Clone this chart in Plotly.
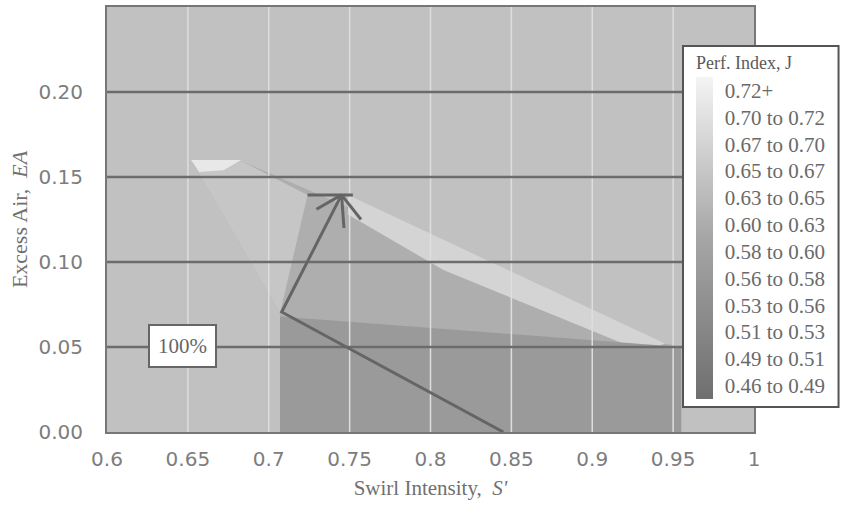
import plotly.graph_objects as go

# ---------------- data ----------------
x_ticks = [0.6, 0.65, 0.7, 0.75, 0.8, 0.85, 0.9, 0.95, 1.0]
x_labels = ["0.6", "0.65", "0.7", "0.75", "0.8", "0.85", "0.9", "0.95", "1"]
y_ticks = [0.0, 0.05, 0.10, 0.15, 0.20]
y_labels = ["0.00", "0.05", "0.10", "0.15", "0.20"]

# contour regions (vertices in data units)
feasible_x = [0.652, 0.684, 0.945, 0.955, 0.955, 0.707, 0.707]
feasible_y = [0.160, 0.159, 0.052, 0.050, 0.000, 0.000, 0.070]
upper_left_x = [0.652, 0.684, 0.724, 0.707]
upper_left_y = [0.160, 0.159, 0.1394, 0.070]
sliver_x = [0.652, 0.683, 0.672, 0.657]
sliver_y = [0.160, 0.160, 0.154, 0.153]
band_x = [0.749, 0.945, 0.932, 0.808, 0.749]
band_y = [0.1394, 0.052, 0.047, 0.0953, 0.128]
dark_x = [0.707, 0.707, 0.955, 0.955]
dark_y = [0.000, 0.068, 0.050, 0.000]

# path lines
start_pt = (0.708, 0.0706)
tip_pt = (0.745, 0.1395)
end_pt = (0.845, 0.0)
bar_x = [0.724, 0.752]
bar_y = [0.1394, 0.1394]
barb_x = [0.7295, 0.7465, 0.757]
barb_y = [0.131, 0.120, 0.125]

legend_labels = ["0.46 to 0.49", "0.49 to 0.51", "0.51 to 0.53", "0.53 to 0.56",
                 "0.56 to 0.58", "0.58 to 0.60", "0.60 to 0.63", "0.63 to 0.65",
                 "0.65 to 0.67", "0.67 to 0.70", "0.70 to 0.72", "0.72+"]

SERIF = "Liberation Serif"
fig = go.Figure()

def poly(xs, ys, color):
    fig.add_trace(go.Scatter(x=xs, y=ys, fill="toself", fillcolor=color,
                             mode="lines", line=dict(width=0), hoverinfo="skip",
                             showlegend=False))

poly(feasible_x, feasible_y, "#aeaeae")
poly(upper_left_x, upper_left_y, "#c6c6c6")
poly(sliver_x, sliver_y, "#e8e8e8")
poly(band_x, band_y, "#d4d4d4")
poly(dark_x, dark_y, "#9a9a9a")

# grid lines on top of the regions (from tick arrays)
gx, gy = [], []
for v in x_ticks[1:-1]:
    gx += [v, v, None]
    gy += [y_ticks[0], 0.25, None]
fig.add_trace(go.Scatter(x=gx, y=gy, mode="lines", line=dict(color="#dedede", width=1.5),
                         hoverinfo="skip", showlegend=False))
hx, hy = [], []
for v in y_ticks[1:]:
    hx += [x_ticks[0], x_ticks[-1], None]
    hy += [v, v, None]
fig.add_trace(go.Scatter(x=hx, y=hy, mode="lines", line=dict(color="#6c6c6c", width=2.5),
                         hoverinfo="skip", showlegend=False))

# path lines
lc = dict(color="#656565", width=3)
fig.add_trace(go.Scatter(x=[end_pt[0], start_pt[0], tip_pt[0]],
                         y=[end_pt[1], start_pt[1], tip_pt[1]],
                         mode="lines", line=lc, hoverinfo="skip", showlegend=False))
fig.add_trace(go.Scatter(x=bar_x, y=bar_y, mode="lines", line=lc,
                         hoverinfo="skip", showlegend=False))
bx, by = [], []
for xx, yy in zip(barb_x, barb_y):
    bx += [tip_pt[0], xx, None]
    by += [tip_pt[1], yy, None]
fig.add_trace(go.Scatter(x=bx, y=by, mode="lines", line=lc,
                         hoverinfo="skip", showlegend=False))

# colour legend (colorbar)
n = len(legend_labels)
fig.add_trace(go.Scatter(
    x=[None] * n, y=[None] * n, mode="markers", showlegend=False, hoverinfo="skip",
    marker=dict(color=list(range(n)), cmin=0, cmax=n,
                colorscale=[[0, "#6f6f6f"], [0.5, "#a6a6a6"], [1, "#f4f4f4"]],
                showscale=True,
                colorbar=dict(
                    x=0.892, xanchor="left", y=0.908, yanchor="top",
                    lenmode="pixels", len=359, thickness=17,
                    thicknessmode="pixels", xpad=12, ypad=6,
                    outlinewidth=0, bgcolor="white",
                    bordercolor="#555555", borderwidth=2,
                    tickmode="array", tickvals=[i + 0.5 for i in range(n)],
                    ticktext=legend_labels, ticks="outside", ticklen=8,
                    tickcolor="white",
                    tickfont=dict(family=SERIF, size=21, color="#6a6a6a"),
                    title=dict(text="Perf. Index, J", side="top",
                               font=dict(family=SERIF, size=18, color="#5a5a5a")),
                ))))

fig.add_annotation(x=0.6466, y=0.0506, xref="x", yref="y", text="100%",
                   showarrow=False, bgcolor="white", bordercolor="#666666",
                   borderwidth=2, borderpad=8,
                   font=dict(family=SERIF, size=21, color="#666666"))

fig.update_layout(
    width=841, height=514,
    margin=dict(l=107, r=87, t=7, b=82, autoexpand=False),
    paper_bgcolor="white", plot_bgcolor="#c1c1c1",
    font=dict(family="DejaVu Sans", color="#7a7a7a"),
)
fig.update_xaxes(range=[0.6, 1.0], tickvals=x_ticks, ticktext=x_labels,
                 showgrid=False, zeroline=False, showline=True, mirror=True,
                 linecolor="#777777", linewidth=2, ticks="", ticklabelstandoff=8,
                 tickfont=dict(family="DejaVu Sans", size=20, color="#7d7d7d"),
                 title=dict(text="Swirl Intensity,  <i>S'</i>", standoff=10,
                            font=dict(family=SERIF, size=21, color="#707070")))
fig.update_yaxes(range=[0.0, 0.25], tickvals=y_ticks, ticktext=y_labels,
                 showgrid=False, zeroline=False, showline=True, mirror=True,
                 linecolor="#777777", linewidth=2, ticks="", ticklabelstandoff=18,
                 tickfont=dict(family="DejaVu Sans", size=20, color="#7d7d7d"),
                 title=dict(text="Excess Air,  <i>EA</i>", standoff=5,
                            font=dict(family=SERIF, size=22, color="#707070")))

fig.write_html("out.html", config={"displayModeBar": False},
               post_script="document.body.style.margin='0px';")
